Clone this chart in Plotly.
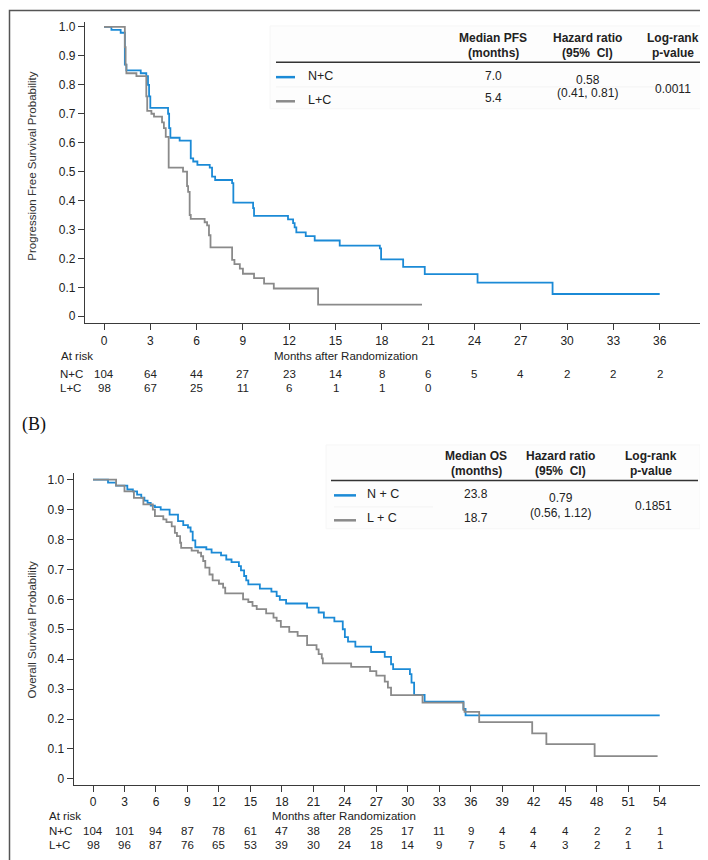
import plotly.graph_objects as go

W, H = 708, 860

# ---------------- data ----------------
# Panel A: progression-free survival (months, probability)
pfs_nc_t = [0, 0.48, 1.08, 1.35, 1.45, 2.38, 2.74, 2.85, 2.92, 3.0, 4.15, 4.22, 4.3, 4.9, 5.62, 5.78, 6.05,
            6.85, 7.0, 7.2, 8.3, 8.38, 9.66, 9.72, 11.92, 12.25, 12.35, 12.46, 13.07, 13.65, 15.27, 17.87,
            17.95, 19.38, 20.78, 24.2, 29.06, 36.0]
pfs_nc_s = [1.0, 0.99, 0.98, 0.87, 0.85, 0.84, 0.83, 0.80, 0.76, 0.72, 0.70, 0.65, 0.617, 0.607, 0.546, 0.535,
            0.523, 0.514, 0.483, 0.471, 0.46, 0.393, 0.374, 0.347, 0.335, 0.322, 0.307, 0.29, 0.277, 0.262,
            0.244, 0.235, 0.197, 0.171, 0.146, 0.116, 0.077, 0.077]
pfs_lc_t = [0, 1.35, 1.4, 1.45, 2.1, 2.74, 2.8, 3.07, 3.24, 3.76, 3.88, 4.0, 4.19, 5.12, 5.38, 5.45, 5.55,
            5.62, 6.52, 6.68, 6.8, 6.9, 8.3, 8.45, 8.8, 9.0, 9.72, 10.37, 11.0, 13.87, 20.6]
pfs_lc_s = [1.0, 0.93, 0.87, 0.84, 0.83, 0.76, 0.71, 0.70, 0.69, 0.67, 0.65, 0.62, 0.514, 0.50, 0.45, 0.43,
            0.35, 0.337, 0.325, 0.314, 0.28, 0.238, 0.195, 0.18, 0.165, 0.147, 0.132, 0.113, 0.096, 0.04, 0.04]

# Panel B: overall survival
os_nc_t = [0, 1.43, 2.2, 3.27, 3.8, 4.2, 4.6, 4.9, 5.2, 5.5, 5.9, 6.45, 7.3, 8.1, 8.6, 9.05, 9.3, 9.5, 9.75,
           10.8, 11.3, 12.2, 12.7, 13.2, 13.9, 14.1, 14.4, 14.6, 14.8, 15.9, 17.0, 17.5, 17.8, 18.4, 20.4,
           21.5, 22.0, 23.0, 23.8, 24.0, 24.3, 25.0, 26.5, 27.8, 28.4, 28.6, 30.2, 30.35, 30.6, 31.6, 35.3,
           35.5, 54.0]
os_nc_s = [1.0, 0.99, 0.98, 0.967, 0.961, 0.95, 0.94, 0.93, 0.922, 0.913, 0.908, 0.90, 0.883, 0.861, 0.848,
           0.84, 0.826, 0.797, 0.774, 0.767, 0.756, 0.747, 0.733, 0.724, 0.711, 0.697, 0.678, 0.663, 0.65,
           0.636, 0.626, 0.611, 0.598, 0.586, 0.572, 0.556, 0.539, 0.526, 0.50, 0.474, 0.459, 0.442, 0.424,
           0.408, 0.383, 0.367, 0.35, 0.322, 0.281, 0.258, 0.234, 0.212, 0.212]
os_lc_t = [0, 2.2, 3.0, 3.9, 4.8, 5.7, 5.9, 6.7, 7.0, 7.5, 7.8, 8.0, 8.3, 8.4, 9.4, 10.0, 10.3, 10.5, 10.7,
           11.1, 11.4, 12.0, 12.4, 12.6, 14.3, 14.8, 15.2, 15.6, 16.5, 17.2, 17.5, 17.9, 18.7, 19.5, 20.4,
           21.3, 21.5, 21.8, 21.9, 24.6, 26.4, 27.0, 27.8, 28.1, 28.4, 31.4, 35.3, 35.4, 36.8, 41.85, 43.2,
           47.8, 53.8]
os_lc_s = [1.0, 0.98, 0.961, 0.939, 0.917, 0.90, 0.878, 0.867, 0.858, 0.844, 0.822, 0.811, 0.789, 0.772,
           0.763, 0.756, 0.744, 0.728, 0.706, 0.683, 0.663, 0.652, 0.639, 0.62, 0.60, 0.591, 0.578, 0.567,
           0.553, 0.539, 0.528, 0.508, 0.491, 0.478, 0.447, 0.433, 0.417, 0.403, 0.386, 0.374, 0.36, 0.345,
           0.325, 0.305, 0.28, 0.255, 0.231, 0.224, 0.19, 0.152, 0.116, 0.076, 0.076]

# tick labels / at-risk tables
y_ticks = [0, 0.1, 0.2, 0.3, 0.4, 0.5, 0.6, 0.7, 0.8, 0.9, 1.0]
y_ticktext = ["0", "0.1", "0.2", "0.3", "0.4", "0.5", "0.6", "0.7", "0.8", "0.9", "1.0"]
pfs_months = [0, 3, 6, 9, 12, 15, 18, 21, 24, 27, 30, 33, 36]
pfs_risk_nc = [104, 64, 44, 27, 23, 14, 8, 6, 5, 4, 2, 2, 2]
pfs_risk_lc = [98, 67, 25, 11, 6, 1, 1, 0]
os_months = [0, 3, 6, 9, 12, 15, 18, 21, 24, 27, 30, 33, 36, 39, 42, 45, 48, 51, 54]
os_risk_nc = [104, 101, 94, 87, 78, 61, 47, 38, 28, 25, 17, 11, 9, 4, 4, 4, 2, 2, 1]
os_risk_lc = [98, 96, 87, 76, 65, 53, 39, 30, 24, 18, 14, 9, 7, 5, 4, 3, 2, 1, 1]

BLUE = "#1b8ad6"
GRAY = "#8a8a8a"
AX = "#3a3a3a"
SANS = "Liberation Sans, Arial, sans-serif"
RISK = 11.5


def px(x):
    return x / W


def py(y):
    return 1 - y / H


fig = go.Figure()
fig.add_trace(go.Scatter(x=pfs_nc_t, y=pfs_nc_s, mode="lines", line=dict(shape="hv", color=BLUE, width=1.8),
                         xaxis="x", yaxis="y", showlegend=False))
fig.add_trace(go.Scatter(x=pfs_lc_t, y=pfs_lc_s, mode="lines", line=dict(shape="hv", color=GRAY, width=1.8),
                         xaxis="x", yaxis="y", showlegend=False))
fig.add_trace(go.Scatter(x=os_nc_t, y=os_nc_s, mode="lines", line=dict(shape="hv", color=BLUE, width=1.8),
                         xaxis="x2", yaxis="y2", showlegend=False))
fig.add_trace(go.Scatter(x=os_lc_t, y=os_lc_s, mode="lines", line=dict(shape="hv", color=GRAY, width=1.8),
                         xaxis="x2", yaxis="y2", showlegend=False))

axis_common = dict(showline=True, linecolor=AX, linewidth=1.2, ticks="outside", ticklen=6, tickcolor=AX,
                   tickwidth=1, showgrid=False, zeroline=False, mirror=False)

# Panel A geometry (pixels)
ax_x0, ax_x1, a0, a36 = 77, 696, 96, 651.7
sA = (a36 - a0) / 36
ay_top, ay_bot, ay1, ay0 = 12.7, 315, 18, 308
sAy = (ay0 - ay1)
# Panel B geometry
bx_x0, bx_x1, b0, b54 = 65.7, 697.7, 85, 651.7
sB = (b54 - b0) / 54
by_top, by_bot, by1, by0 = 465, 777.7, 471.7, 771.7
sBy = (by0 - by1)

fig.update_layout(
    width=W, height=H, margin=dict(l=0, r=0, t=0, b=0),
    paper_bgcolor="white", plot_bgcolor="white",
    xaxis=dict(**axis_common, domain=[px(ax_x0), px(ax_x1)], anchor="y",
               range=[(ax_x0 - a0) / sA, (ax_x1 - a0) / sA],
               tickvals=pfs_months, ticktext=[str(m) for m in pfs_months],
               tickfont=dict(family=SANS, size=12, color="#222")),
    yaxis=dict(**axis_common, domain=[py(ay_bot), py(ay_top)], anchor="x",
               range=[(ay0 - ay_bot) / sAy, (ay0 - ay_top) / sAy],
               tickvals=y_ticks, ticktext=y_ticktext,
               tickfont=dict(family=SANS, size=12, color="#222")),
    xaxis2=dict(**axis_common, domain=[px(bx_x0), px(bx_x1)], anchor="y2",
                range=[(bx_x0 - b0) / sB, (bx_x1 - b0) / sB],
                tickvals=os_months, ticktext=[str(m) for m in os_months],
                tickfont=dict(family=SANS, size=12, color="#222")),
    yaxis2=dict(**axis_common, domain=[py(by_bot), py(by_top)], anchor="x2",
                range=[(by0 - by_bot) / sBy, (by0 - by_top) / sBy],
                tickvals=y_ticks, ticktext=y_ticktext,
                tickfont=dict(family=SANS, size=12, color="#222")),
)

ann = []
shapes = []


def text(x, y, s, size=12, family=SANS, xanchor="center", color="#222", bold=False, textangle=0):
    ann.append(dict(x=px(x), y=py(y), xref="paper", yref="paper", text=("<b>%s</b>" % s) if bold else s,
                    showarrow=False, xanchor=xanchor, yanchor="middle", textangle=textangle,
                    font=dict(family=family, size=size, color=color)))


def line(x0, y0, x1, y1, color, width):
    shapes.append(dict(type="line", xref="paper", yref="paper", x0=px(x0), y0=py(y0), x1=px(x1), y1=py(y1),
                       line=dict(color=color, width=width)))


# outer frame
shapes.append(dict(type="rect", xref="paper", yref="paper", x0=px(1.5), y0=py(857.5), x1=px(706), y1=py(1.5),
                   line=dict(color="#555", width=1.5), fillcolor="rgba(0,0,0,0)"))

# y-axis titles
text(24, 158, "Progression Free Survival Probability", size=11.5, textangle=-90, color="#333")
text(24, 622, "Overall Survival Probability", size=11.5, textangle=-90, color="#333")

# Panel A table
shapes.append(dict(type="rect", xref="paper", yref="paper", x0=px(262), y0=py(100), x1=px(698), y1=py(17),
                   line=dict(color="#f6f6f6", width=1), fillcolor="rgba(0,0,0,0.006)", layer="below"))
line(268, 53.3, 692, 53.3, "#333", 1.5)
line(268, 68.3, 287, 68.3, BLUE, 2.5)
line(268, 92.5, 287, 92.5, GRAY, 2.5)
line(268, 78, 680, 78, "#f3f3f3", 1)
text(298, 67, "N+C", xanchor="left", size=12.5)
text(298, 91, "L+C", xanchor="left", size=12.5)
text(485, 29.3, "Median PFS", bold=True, size=12)
text(485, 44.3, "(months)", bold=True, size=12)
text(579.5, 29.3, "Hazard ratio", bold=True, size=12)
text(579.5, 44.3, "(95%  CI)", bold=True, size=12)
text(665, 29.3, "Log-rank", bold=True, size=12)
text(665, 44.3, "p-value", bold=True, size=12)
text(485, 67.5, "7.0")
text(485, 89, "5.4")
text(579.5, 70.7, "0.58")
text(579.5, 84, "(0.41, 0.81)")
text(665, 80, "0.0011")

# Panel B table
shapes.append(dict(type="rect", xref="paper", yref="paper", x0=px(318), y0=py(521), x1=px(692), y1=py(437),
                   line=dict(color="#f6f6f6", width=1), fillcolor="rgba(0,0,0,0.006)", layer="below"))
line(323, 472.5, 690, 472.5, "#333", 1.5)
line(326, 487.5, 348, 487.5, BLUE, 2.5)
line(326, 512.5, 348, 512.5, GRAY, 2.5)
line(326, 499, 425, 499, "#f3f3f3", 1)
text(357, 486, "N + C", xanchor="left", size=12.5)
text(357, 510, "L + C", xanchor="left", size=12.5)
text(468.3, 448.3, "Median OS", bold=True, size=12)
text(468.3, 462.7, "(months)", bold=True, size=12)
text(552.7, 448.3, "Hazard ratio", bold=True, size=12)
text(552.7, 462.7, "(95%  CI)", bold=True, size=12)
text(643.3, 448.3, "Log-rank", bold=True, size=12)
text(643.3, 462.7, "p-value", bold=True, size=12)
text(468.3, 486, "23.8")
text(468.3, 510, "18.7")
text(552.7, 490, "0.79")
text(552.7, 505.5, "(0.56, 1.12)")
text(645, 497.7, "0.1851")

# (B) label
text(12, 416.5, "(B)", size=18, family="Liberation Serif, Times New Roman, serif", xanchor="left", color="#111")

# At-risk tables (x in data coordinates)
text(50.5, 348, "At risk", xanchor="left", size=RISK)
text(338, 347.7, "Months after Randomization", size=RISK)
text(50, 366.2, "N+C", xanchor="left", size=RISK)
text(50, 380, "L+C", xanchor="left", size=RISK)
for m, v in zip(pfs_months, pfs_risk_nc):
    ann.append(dict(x=m, y=py(366.2), xref="x", yref="paper", text=str(v), showarrow=False,
                    xanchor="center", yanchor="middle", font=dict(family=SANS, size=RISK, color="#222")))
for m, v in zip(pfs_months, pfs_risk_lc):
    ann.append(dict(x=m, y=py(380), xref="x", yref="paper", text=str(v), showarrow=False,
                    xanchor="center", yanchor="middle", font=dict(family=SANS, size=RISK, color="#222")))

text(39, 809, "At risk", xanchor="left", size=RISK)
text(336, 809, "Months after Randomization", size=RISK)
text(39, 824, "N+C", xanchor="left", size=RISK)
text(39, 837.7, "L+C", xanchor="left", size=RISK)
for m, v in zip(os_months, os_risk_nc):
    ann.append(dict(x=m, y=py(824), xref="x2", yref="paper", text=str(v), showarrow=False,
                    xanchor="center", yanchor="middle", font=dict(family=SANS, size=RISK, color="#222")))
for m, v in zip(os_months, os_risk_lc):
    ann.append(dict(x=m, y=py(837.7), xref="x2", yref="paper", text=str(v), showarrow=False,
                    xanchor="center", yanchor="middle", font=dict(family=SANS, size=RISK, color="#222")))

fig.update_layout(annotations=ann, shapes=shapes)
fig.write_html("out.html")
